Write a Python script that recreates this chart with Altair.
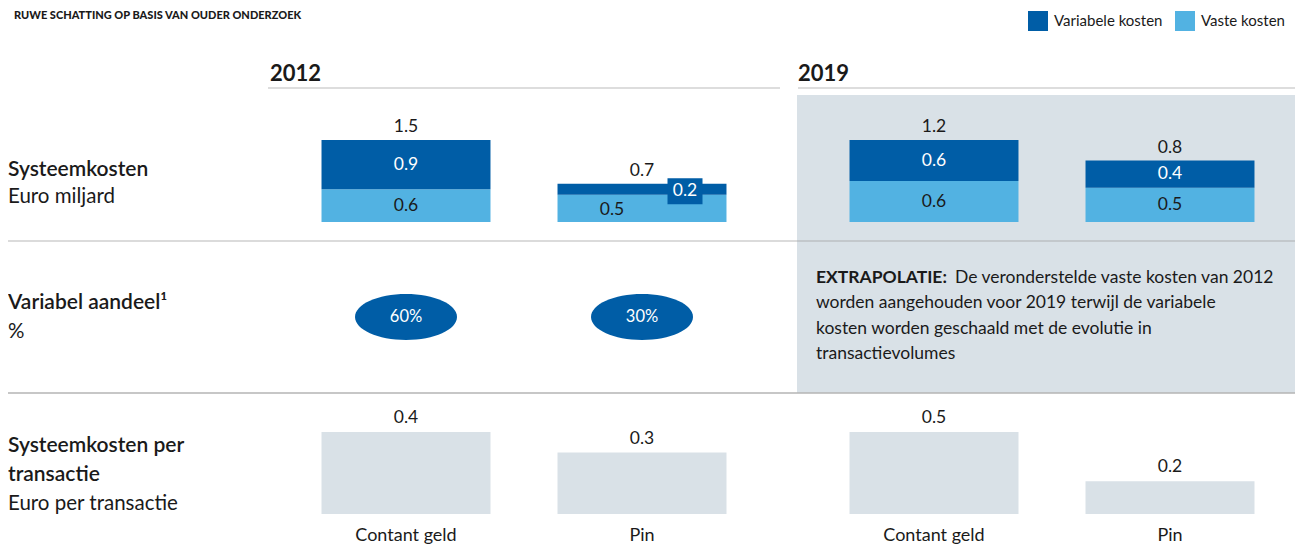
import altair as alt
import pandas as pd

FONT = "Lato"
DARK = "#005da6"
LIGHT = "#52b2e2"
PANEL = "#d9e1e7"
INK = "#1a1a1a"

# ---------------- data ----------------
title_text = "RUWE SCHATTING OP BASIS VAN OUDER ONDERZOEK"
years = ["2012", "2019"]
methods = ["Contant geld", "Pin"]
cost_types = ["Variabele kosten", "Vaste kosten"]

var_2012 = [0.9, 0.2]
fix_2012 = [0.6, 0.5]
tot_2012 = ["1.5", "0.7"]
var_2019 = [0.6, 0.4]
fix_2019 = [0.6, 0.5]
tot_2019 = ["1.2", "0.8"]

share_2012 = [60, 30]

per_tx_2012 = [0.4, 0.3]
per_tx_2019 = [0.5, 0.2]

row1_title = ["Systeemkosten", "Euro miljard"]
row2_title = ["Variabel aandeel\u00b9", "%"]
row3_title = ["Systeemkosten per", "transactie", "Euro per transactie"]

note_bold = "EXTRAPOLATIE:"
note_lines = [
    "De veronderstelde vaste kosten van 2012",
    "worden aangehouden voor 2019 terwijl de variabele",
    "kosten worden geschaald met de evolutie in",
    "transactievolumes",
]

# ---------------- tables ----------------
rows = []
for yr, vv, ff, tt in [("2012", var_2012, fix_2012, tot_2012), ("2019", var_2019, fix_2019, tot_2019)]:
    for m, v, f, t in zip(methods, vv, ff, tt):
        rows.append({"year": yr, "method": m, "type": cost_types[1], "ord": 0, "value": f, "total": t})
        rows.append({"year": yr, "method": m, "type": cost_types[0], "ord": 1, "value": v, "total": t})
df_cost = pd.DataFrame(rows)

df_share = pd.DataFrame({"method": methods, "share": share_2012})

df_tx = pd.DataFrame(
    [{"year": "2012", "method": m, "value": v} for m, v in zip(methods, per_tx_2012)]
    + [{"year": "2019", "method": m, "value": v} for m, v in zip(methods, per_tx_2019)]
)

one = pd.DataFrame({"k": [0]})

W = 1287
X12 = [280, 752]
X19 = [808, 1280]
NUM = 17.5


def xenc(xr):
    return alt.X(
        "method:N",
        scale=alt.Scale(domain=methods, range=xr, paddingInner=0.284, paddingOuter=0.142),
        axis=None,
    )


color_enc = alt.Color(
    "type:N",
    scale=alt.Scale(domain=cost_types, range=[DARK, LIGHT]),
    legend=alt.Legend(
        title=None,
        orient="none",
        legendX=1020,
        legendY=3,
        direction="horizontal",
        symbolType="square",
        symbolSize=400,
        symbolStrokeWidth=0,
        symbolOpacity=1,
        labelFont=FONT,
        labelFontSize=15,
        labelColor=INK,
        labelOffset=6,
        columnPadding=12,
        padding=0,
    ),
)


def cost_group(year, xr, special=False):
    yscale = alt.Scale(range=[214, 132], nice=False, zero=True)
    base = (
        alt.Chart(df_cost)
        .transform_filter(alt.datum.year == year)
        .transform_stack(
            stack="value",
            groupby=["method"],
            as_=["v0", "v1"],
            sort=[alt.SortField("ord", order="ascending")],
        )
        .transform_calculate(mid="(datum.v0 + datum.v1) / 2")
    )
    x = xenc(xr)
    bars = base.mark_bar(strokeWidth=0).encode(
        x=x,
        y=alt.Y("v0:Q", scale=yscale, axis=None),
        y2="v1:Q",
        color=color_enc,
    )
    seg_color = alt.condition(alt.datum.ord == 1, alt.value("white"), alt.value(INK))
    seg_base = base
    if special:
        seg_base = base.transform_filter(alt.datum.method != "Pin")
    seg = seg_base.mark_text(font=FONT, fontSize=NUM, baseline="middle").encode(
        x=x,
        y=alt.Y("mid:Q", scale=yscale, axis=None),
        text=alt.Text("value:Q", format=".1f"),
        color=seg_color,
    )
    tot = base.transform_filter(alt.datum.ord == 1).mark_text(
        font=FONT, fontSize=NUM, baseline="alphabetic", dy=-8, color=INK
    ).encode(
        x=x,
        y=alt.Y("v1:Q", scale=yscale, axis=None),
        text="total:N",
    )
    layers = [bars, seg, tot]
    if special:
        sp = base.transform_filter(alt.datum.method == "Pin")
        lo = sp.transform_filter(alt.datum.ord == 0).mark_text(
            font=FONT, fontSize=NUM, baseline="middle", dx=-30, dy=2, color=INK
        ).encode(x=x, y=alt.Y("mid:Q", scale=yscale, axis=None), text=alt.Text("value:Q", format=".1f"))
        hi_box = sp.transform_filter(alt.datum.ord == 1).mark_point(
            shape="M-1,-0.74H1V0.74H-1Z", size=1225, filled=True, opacity=1,
            color=DARK, strokeWidth=0, xOffset=43, yOffset=2,
        ).encode(x=x, y=alt.Y("mid:Q", scale=yscale, axis=None))
        hi = sp.transform_filter(alt.datum.ord == 1).mark_text(
            font=FONT, fontSize=NUM, baseline="middle", dx=43, dy=2, color="white"
        ).encode(x=x, y=alt.Y("mid:Q", scale=yscale, axis=None), text=alt.Text("value:Q", format=".1f"))
        layers += [lo, hi_box, hi]
    return alt.layer(*layers)


def share_group(xr):
    x = xenc(xr)
    base = alt.Chart(df_share).transform_calculate(lab="datum.share + '%'")
    ell = base.mark_point(
        shape="M-1,0A1,0.45 0 1,0 1,0A1,0.45 0 1,0 -1,0Z",
        size=10404, filled=True, opacity=1, color=DARK, strokeWidth=0,
    ).encode(x=x, y=alt.value(309))
    txt = base.mark_text(font=FONT, fontSize=16.5, color="white", baseline="middle").encode(
        x=x, y=alt.value(309), text="lab:N"
    )
    return alt.layer(ell, txt)


def tx_group(year, xr):
    x = xenc(xr)
    yscale = alt.Scale(range=[506, 424], nice=False, zero=True)
    base = alt.Chart(df_tx).transform_filter(alt.datum.year == year)
    bars = base.mark_bar(color=PANEL, strokeWidth=0).encode(
        x=x, y=alt.Y("value:Q", scale=yscale, axis=None)
    )
    val = base.mark_text(font=FONT, fontSize=NUM, color=INK, baseline="alphabetic", dy=-9).encode(
        x=x, y=alt.Y("value:Q", scale=yscale, axis=None), text=alt.Text("value:Q", format=".1f")
    )
    cat = base.mark_text(font=FONT, fontSize=18, color=INK, baseline="alphabetic").encode(
        x=x, y=alt.value(533), text="method:N"
    )
    return alt.layer(bars, val, cat)


def label(text, x, y, size, weight="normal", color=INK, align="left"):
    return alt.Chart(pd.DataFrame({"t": [text]})).mark_text(
        font=FONT, fontSize=size, fontWeight=weight, color=color, align=align, baseline="alphabetic"
    ).encode(x=alt.value(x), y=alt.value(y), text="t:N")


def hrule(x1, x2, y, color, width=1, opacity=1):
    return alt.Chart(one).mark_rule(color=color, strokeWidth=width, opacity=opacity).encode(
        x=alt.value(x1), x2=alt.value(x2), y=alt.value(y)
    )


background = alt.Chart(one).mark_rect(color=PANEL).encode(
    x=alt.value(789), x2=alt.value(W), y=alt.value(87), y2=alt.value(385)
)

deco = [
    background,
    hrule(260, 772, 80, "#bbbbbb"),
    hrule(790, W, 80, "#bbbbbb"),
    hrule(0, W, 233, "#a0a0a0", 1.5, 0.5),
    hrule(0, W, 385, "#b4b4b4", 1.5),
]

texts = [
    label(title_text, 6, 11, 11, 900),
    label(years[0], 262, 73, 22, "bold"),
    label(years[1], 790, 73, 22, "bold"),
    label(row1_title[0], 0, 168, 21, 600),
    label(row1_title[1], 0, 195, 20.5),
    label(row2_title[0], 0, 301, 21, 600),
    label(row2_title[1], 0, 330, 20.5),
    label(row3_title[0], 0, 444, 21, 600),
    label(row3_title[1], 0, 473, 21, 600),
    label(row3_title[2], 0, 502, 20.5),
    label(note_bold, 808, 275, 17.5, "bold"),
    label(note_lines[0], 947, 275, 17.5),
    label(note_lines[1], 808, 300, 17.5),
    label(note_lines[2], 808, 326, 17.5),
    label(note_lines[3], 808, 351, 17.5),
]

groups = [
    cost_group("2012", X12, special=True),
    cost_group("2019", X19),
    share_group(X12),
    tx_group("2012", X12),
    tx_group("2019", X19),
]

chart = (
    alt.layer(*deco, *groups, *texts)
    .resolve_scale(x="independent", y="independent")
    .properties(
        width=W,
        height=537,
        padding=0,
        autosize=alt.AutoSizeParams(type="none"),
        background="white",
    )
    .configure_view(stroke=None)
)

chart.save("out.html", embed_options={"renderer": "svg", "actions": False})
